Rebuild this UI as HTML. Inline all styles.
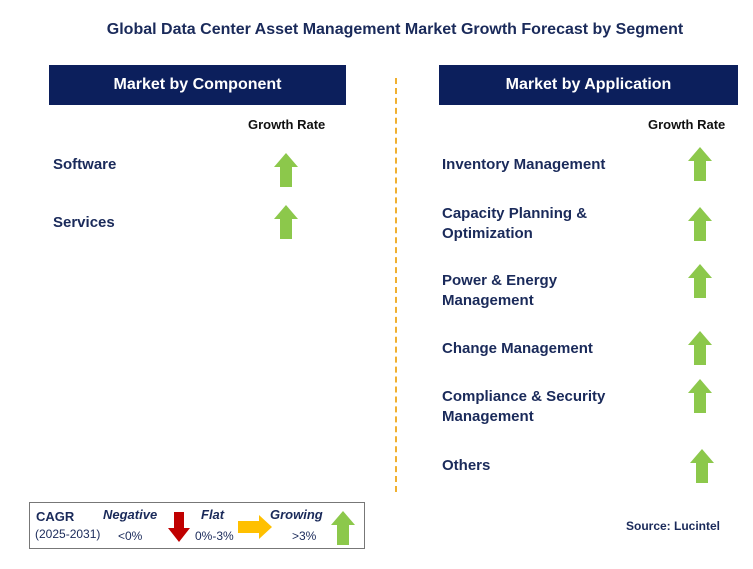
<!DOCTYPE html>
<html><head><meta charset="utf-8"><style>
body{margin:0;width:753px;height:569px;background:#fff;position:relative;font-family:"Liberation Sans",Arial,sans-serif;overflow:hidden}
.a{position:absolute}
.t{color:#1a2a5a;font-weight:bold;font-size:15px;line-height:20px}
.hd{background:#0c1f5c;color:#fff;font-weight:bold;font-size:16px;text-align:center;line-height:40px;height:40px}
</style></head><body>
<div class="a" style="left:0;width:790px;top:21px;text-align:center;font-weight:bold;font-size:16px;color:#1a2a5a">Global Data Center Asset Management Market Growth Forecast by Segment</div>
<div class="a hd" style="left:49px;top:65px;width:297px">Market by Component</div>
<div class="a hd" style="left:439px;top:65px;width:299px">Market by Application</div>
<div class="a" style="left:395px;top:78px;height:414px;border-left:2px dashed #f0b030"></div>
<div class="a" style="left:248px;top:117px;font-size:13px;font-weight:bold;color:#111">Growth Rate</div>
<div class="a" style="left:648px;top:117px;font-size:13px;font-weight:bold;color:#111">Growth Rate</div>
<div class="a t" style="left:53px;top:155px">Software</div>
<div class="a t" style="left:53px;top:213px">Services</div>
<div class="a t" style="left:442px;top:155px">Inventory Management</div>
<div class="a t" style="left:442px;top:204px">Capacity Planning &amp;<br>Optimization</div>
<div class="a t" style="left:442px;top:271px">Power &amp; Energy<br>Management</div>
<div class="a t" style="left:442px;top:339px">Change Management</div>
<div class="a t" style="left:442px;top:387px">Compliance &amp; Security<br>Management</div>
<div class="a t" style="left:442px;top:456px">Others</div>
<svg class="a" style="left:0;top:0" width="753" height="569">
<defs><polygon id="up" points="0,-17 12,-3 6,-3 6,17 -6,17 -6,-3 -12,-3" fill="#8cc84b"/></defs>
<use href="#up" x="286" y="170"/>
<use href="#up" x="286" y="222"/>
<use href="#up" x="700" y="164"/>
<use href="#up" x="700" y="224"/>
<use href="#up" x="700" y="281"/>
<use href="#up" x="700" y="348"/>
<use href="#up" x="700" y="396"/>
<use href="#up" x="702" y="466"/>
<rect x="29.5" y="502.5" width="335" height="46" fill="none" stroke="#777"/>
<polygon points="174,512 184,512 184,528 190,528 179,542 168,528 174,528" fill="#c00000"/>
<polygon points="238,521 259,521 259,515 272,527 259,539 259,533 238,533" fill="#ffc000"/>
<use href="#up" x="343" y="528"/>
</svg>
<div class="a" style="left:36px;top:509px;font-size:13px;font-weight:bold;color:#1a2a5a">CAGR</div>
<div class="a" style="left:35px;top:527px;font-size:12px;color:#1a2a5a">(2025-2031)</div>
<div class="a" style="left:103px;top:507px;font-size:13px;font-weight:bold;font-style:italic;color:#1a2a5a">Negative</div>
<div class="a" style="left:118px;top:529px;font-size:12px;color:#1a2a5a">&lt;0%</div>
<div class="a" style="left:201px;top:507px;font-size:13px;font-weight:bold;font-style:italic;color:#1a2a5a">Flat</div>
<div class="a" style="left:195px;top:529px;font-size:12px;color:#1a2a5a">0%-3%</div>
<div class="a" style="left:270px;top:507px;font-size:13px;font-weight:bold;font-style:italic;color:#1a2a5a">Growing</div>
<div class="a" style="left:292px;top:529px;font-size:12px;color:#1a2a5a">&gt;3%</div>
<div class="a" style="left:626px;top:519px;font-size:12px;font-weight:bold;color:#1a2a5a">Source: Lucintel</div>
</body></html>
